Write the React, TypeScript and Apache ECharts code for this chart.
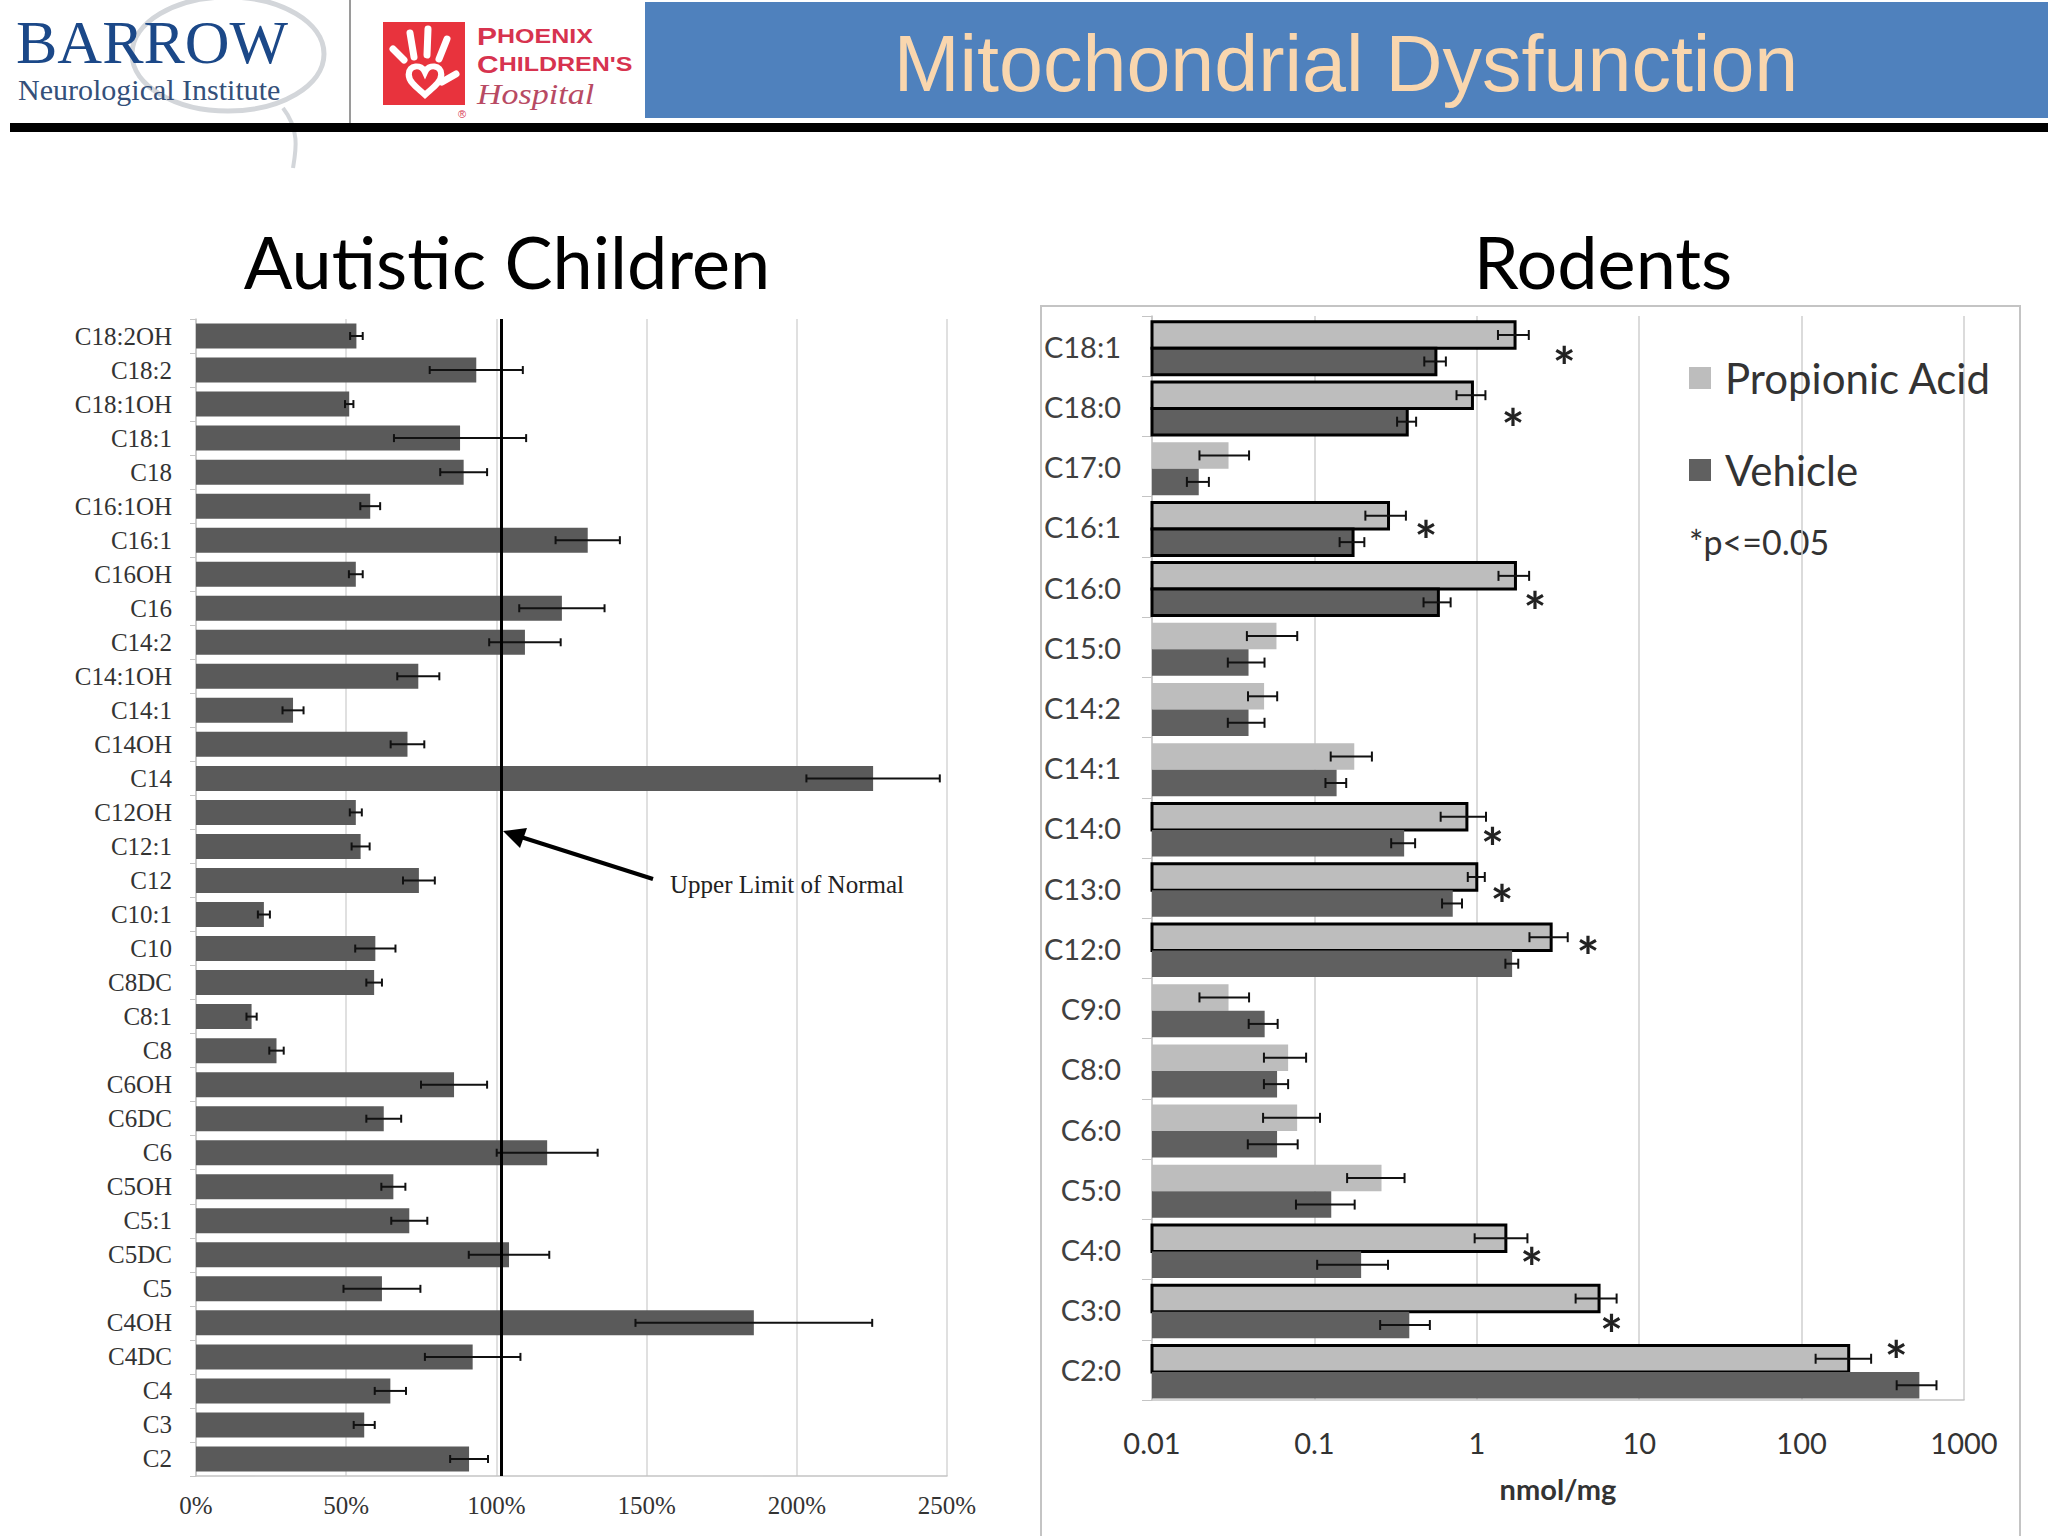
import React, { useEffect, useRef } from 'react';
import * as echarts from 'echarts';

// ---------- Left chart: Autistic Children (% of upper limit of normal) ----------
const leftCategories = ['C18:2OH','C18:2','C18:1OH','C18:1','C18','C16:1OH','C16:1','C16OH','C16','C14:2','C14:1OH','C14:1','C14OH','C14','C12OH','C12:1','C12','C10:1','C10','C8DC','C8:1','C8','C6OH','C6DC','C6','C5OH','C5:1','C5DC','C5','C4OH','C4DC','C4','C3','C2'];
const leftValues = [53.4, 93.3, 51, 87.9, 89.1, 58, 130.4, 53.2, 121.8, 109.5, 74, 32.3, 70.4, 225.4, 53.2, 54.8, 74.2, 22.6, 59.7, 59.3, 18.5, 26.8, 85.9, 62.5, 116.9, 65.7, 71, 104.2, 61.9, 185.7, 92.1, 64.7, 56, 90.9];
const leftErrors = [2.1, 15.5, 1.4, 22, 7.8, 3.3, 10.7, 2.3, 14.2, 11.9, 7, 3.5, 5.6, 22.2, 2, 3, 5.3, 2, 6.7, 2.6, 1.7, 2.4, 11, 5.8, 16.8, 4, 6, 13.4, 12.8, 39.4, 15.9, 5.2, 3.5, 6.3];
const leftAxisMin = 0;
const leftAxisMax = 250;
const leftAxisInterval = 50;
const upperLimitOfNormal = 101.5;

// ---------- Right chart: Rodents (nmol/mg, log scale) ----------
const rightCategories = ['C18:1','C18:0','C17:0','C16:1','C16:0','C15:0','C14:2','C14:1','C14:0','C13:0','C12:0','C9:0','C8:0','C6:0','C5:0','C4:0','C3:0','C2:0'];
const propionicValues = [1.72, 0.94, 0.0296, 0.286, 1.73, 0.0584, 0.049, 0.176, 0.869, 1.0, 2.87, 0.0296, 0.0689, 0.0783, 0.259, 1.51, 5.66, 195];
const propionicErrors = [0.37, 0.19, 0.01, 0.08, 0.37, 0.02, 0.01, 0.05, 0.27, 0.12, 0.76, 0.01, 0.02, 0.03, 0.1, 0.54, 1.6, 73];
const vehicleValues = [0.56, 0.373, 0.0194, 0.173, 0.58, 0.0393, 0.0393, 0.137, 0.357, 0.711, 1.65, 0.0494, 0.0589, 0.0589, 0.127, 0.194, 0.384, 531];
const vehicleErrors = [0.085, 0.05, 0.003, 0.03, 0.11, 0.01, 0.01, 0.02, 0.06, 0.1, 0.15, 0.01, 0.01, 0.02, 0.05, 0.09, 0.13, 146];
const propionicOutlined = [1, 1, 0, 1, 1, 0, 0, 0, 1, 1, 1, 0, 0, 0, 0, 1, 1, 1];
const vehicleOutlined = [1, 1, 0, 1, 1, 0, 0, 0, 0, 0, 0, 0, 0, 0, 0, 0, 0, 0];
const rightAxisMin = 0.01;
const rightAxisMax = 1000;
// significance markers (*p<=0.05): category, x value, offset within category band
const sigCategories = ['C18:1','C18:0','C16:1','C16:0','C14:0','C13:0','C12:0','C4:0','C3:0','C2:0'];
const sigX = [3.45, 1.67, 0.487, 2.28, 1.25, 1.43, 4.84, 2.18, 6.76, 382];
const sigBandOffset = [0.15, 0.19, 0.04, 0.22, 0.14, 0.09, -0.04, 0.12, 0.23, -0.34];

const SERIF = '"Liberation Serif", "DejaVu Serif", serif';
const SANS = 'Lato, "Open Sans", "Noto Sans", sans-serif';
const ARIAL = '"Liberation Sans", Arial, sans-serif';

const PA_COLOR = '#bdbdbd';
const VEH_COLOR = '#606060';
const LEFT_BAR = '#5a5a5a';

let shapesRegistered = false;
function registerShapes() {
  if (shapesRegistered) return;
  shapesRegistered = true;
  echarts.graphic.registerShape(
    'heart',
    echarts.graphic.extendPath('M0,-5 C-3,-12 -13,-11 -13,-3 C-13,4 -5,9 0,14 C5,9 13,4 13,-3 C13,-11 3,-12 0,-5 Z', {})
  );
}

function makeRightSeries(name: string, values: number[], errors: number[], outlined: number[], slot: number, color: string) {
  return {
    type: 'custom',
    name,
    xAxisIndex: 1,
    yAxisIndex: 1,
    silent: true,
    itemStyle: { color },
    data: values.map((v, i) => [v, rightCategories[i], errors[i], outlined[i]]),
    encode: { x: 0, y: 1 },
    renderItem: (params: any, api: any) => {
      const v = api.value(0);
      const cat = api.value(1);
      const e = api.value(2);
      const o = api.value(3);
      const band = api.size([0, 1])[1];
      const h = band * 0.44;
      const c = api.coord([v, cat]);
      const base = api.coord([rightAxisMin, cat]);
      const split = c[1] + band * 0.035;
      const y0 = slot === 0 ? split - h : split;
      const yc = y0 + h / 2;
      const lo = api.coord([v - e, cat])[0];
      const hi = api.coord([v + e, cat])[0];
      const cap = 5;
      const es = { stroke: '#111', lineWidth: 2 };
      return {
        type: 'group',
        children: [
          {
            type: 'rect',
            shape: { x: base[0], y: y0, width: c[0] - base[0], height: h },
            style: o ? { fill: color, stroke: '#000', lineWidth: 3 } : { fill: color },
          },
          { type: 'line', shape: { x1: lo, y1: yc, x2: hi, y2: yc }, style: es },
          { type: 'line', shape: { x1: lo, y1: yc - cap, x2: lo, y2: yc + cap }, style: es },
          { type: 'line', shape: { x1: hi, y1: yc - cap, x2: hi, y2: yc + cap }, style: es },
        ],
      };
    },
  };
}

function buildOption() {
  return {
    animation: false,
    backgroundColor: '#ffffff',
    grid: [
      { left: 196, right: 1101, top: 319, bottom: 60 },
      { left: 1152, right: 84, top: 316, bottom: 136 },
    ],
    xAxis: [
      {
        type: 'value',
        gridIndex: 0,
        min: leftAxisMin,
        max: leftAxisMax,
        interval: leftAxisInterval,
        axisLine: { show: true, lineStyle: { color: '#c4c4c4', width: 1.5 } },
        axisTick: { show: false },
        splitLine: { show: true, lineStyle: { color: '#d6d6d6', width: 1.5 } },
        axisLabel: { formatter: '{value}%', fontFamily: SERIF, fontSize: 25, color: '#333', margin: 17 },
      },
      {
        type: 'log',
        gridIndex: 1,
        logBase: 10,
        min: rightAxisMin,
        max: rightAxisMax,
        axisLine: { show: true, lineStyle: { color: '#c4c4c4', width: 1.5 } },
        axisTick: { show: false },
        minorTick: { show: false },
        splitLine: { show: true, lineStyle: { color: '#cfcfcf', width: 1.5 } },
        axisLabel: { fontFamily: SANS, fontSize: 29, color: '#333', margin: 28, formatter: (v: number) => String(v) },
        name: 'nmol/mg',
        nameLocation: 'middle',
        nameGap: 74,
        nameTextStyle: { fontFamily: SANS, fontSize: 29, fontWeight: 'bold', color: '#333' },
      },
    ],
    yAxis: [
      {
        type: 'category',
        gridIndex: 0,
        inverse: true,
        data: leftCategories,
        axisLine: { show: true, lineStyle: { color: '#c4c4c4', width: 1.5 } },
        axisTick: { show: true, length: 6, lineStyle: { color: '#c4c4c4' } },
        axisLabel: { fontFamily: SERIF, fontSize: 25, color: '#333', margin: 24 },
      },
      {
        type: 'category',
        gridIndex: 1,
        inverse: true,
        data: rightCategories,
        axisLine: { show: true, lineStyle: { color: '#c4c4c4', width: 1.5 } },
        axisTick: { show: true, length: 10, lineStyle: { color: '#c4c4c4' } },
        axisLabel: { fontFamily: SANS, fontSize: 29, color: '#404040', margin: 31 },
      },
    ],
    legend: {
      orient: 'vertical',
      left: 1684,
      top: 351,
      icon: 'rect',
      itemWidth: 22,
      itemHeight: 22,
      itemGap: 48,
      selectedMode: false,
      textStyle: { fontFamily: SANS, fontSize: 42, color: '#333', lineHeight: 44, padding: [0, 0, 0, 9] },
      data: [
        { name: 'Propionic Acid', itemStyle: { color: PA_COLOR } },
        { name: 'Vehicle', itemStyle: { color: VEH_COLOR } },
      ],
    },
    series: [
      {
        type: 'bar',
        xAxisIndex: 0,
        yAxisIndex: 0,
        data: leftValues,
        barWidth: 25,
        itemStyle: { color: LEFT_BAR },
        silent: true,
        markLine: {
          silent: true,
          symbol: ['none', 'none'],
          label: { show: false },
          lineStyle: { color: '#000', width: 3, type: 'solid' },
          data: [{ xAxis: upperLimitOfNormal }],
        },
      },
      {
        type: 'custom',
        xAxisIndex: 0,
        yAxisIndex: 0,
        silent: true,
        z: 3,
        data: leftValues.map((v, i) => [v, leftCategories[i], leftErrors[i]]),
        encode: { x: 0, y: 1 },
        renderItem: (params: any, api: any) => {
          const v = api.value(0);
          const cat = api.value(1);
          const e = api.value(2);
          const p1 = api.coord([v - e, cat]);
          const p2 = api.coord([v + e, cat]);
          const cap = 4;
          const s = { stroke: '#111', lineWidth: 2 };
          return {
            type: 'group',
            children: [
              { type: 'line', shape: { x1: p1[0], y1: p1[1], x2: p2[0], y2: p2[1] }, style: s },
              { type: 'line', shape: { x1: p1[0], y1: p1[1] - cap, x2: p1[0], y2: p1[1] + cap }, style: s },
              { type: 'line', shape: { x1: p2[0], y1: p2[1] - cap, x2: p2[0], y2: p2[1] + cap }, style: s },
            ],
          };
        },
      },
      makeRightSeries('Propionic Acid', propionicValues, propionicErrors, propionicOutlined, 0, PA_COLOR),
      makeRightSeries('Vehicle', vehicleValues, vehicleErrors, vehicleOutlined, 1, VEH_COLOR),
      {
        type: 'custom',
        xAxisIndex: 1,
        yAxisIndex: 1,
        silent: true,
        z: 4,
        data: sigX.map((x, i) => [x, sigCategories[i], sigBandOffset[i]]),
        encode: { x: 0, y: 1 },
        renderItem: (params: any, api: any) => {
          const c = api.coord([api.value(0), api.value(1)]);
          const band = api.size([0, 1])[1];
          const y = c[1] + api.value(2) * band;
          return {
            type: 'text',
            x: c[0],
            y: y + 11,
            scaleX: 1.15,
            scaleY: 1.15,
            style: {
              text: '*',
              font: 'bold 47px ' + SANS,
              lineHeight: 24,
              fill: '#222',
              textAlign: 'center',
              textVerticalAlign: 'middle',
            },
          };
        },
      },
    ],
    graphic: [
      // header
      { type: 'rect', shape: { x: 645, y: 2, width: 1403, height: 116 }, style: { fill: '#4f81bd' }, z: 1 },
      {
        type: 'text', x: 1346, y: 63, z: 2,
        style: { text: 'Mitochondrial Dysfunction', font: '79px ' + ARIAL, fill: '#f9d6ae', textAlign: 'center', textVerticalAlign: 'middle' },
      },
      { type: 'rect', shape: { x: 10, y: 123, width: 2038, height: 9 }, style: { fill: '#000' }, z: 3 },
      { type: 'line', shape: { x1: 350, y1: 0, x2: 350, y2: 128 }, style: { stroke: '#9a9a9a', lineWidth: 2 }, z: 2 },
      // Barrow logo
      { type: 'ellipse', shape: { cx: 228, cy: 54, rx: 96, ry: 57 }, style: { fill: 'none', stroke: '#d3d6da', lineWidth: 5 }, z: 1 },
      { type: 'bezierCurve', shape: { x1: 283, y1: 108, cpx1: 300, cpy1: 130, cpx2: 296, cpy2: 150, x2: 293, y2: 168 }, style: { stroke: '#d3d6da', lineWidth: 4, fill: 'none' }, z: 1 },
      {
        type: 'text', x: 16, y: 73, z: 2,
        style: { text: 'BARROW', font: '62px ' + SERIF, fill: '#1b4888', textVerticalAlign: 'bottom' },
      },
      {
        type: 'text', x: 18, y: 89, z: 2,
        style: { text: 'Neurological Institute', font: '30px ' + SERIF, fill: '#34507a', textVerticalAlign: 'middle', lineHeight: 26 },
      },
      // Phoenix Children's logo
      { type: 'rect', shape: { x: 383, y: 22, width: 82, height: 83 }, style: { fill: '#e8333d' }, z: 2 },
      { type: 'line', shape: { x1: 393, y1: 49, x2: 404, y2: 60 }, style: { stroke: '#fff', lineWidth: 7, lineCap: 'round' }, z: 3 },
      { type: 'line', shape: { x1: 410, y1: 33, x2: 414, y2: 57 }, style: { stroke: '#fff', lineWidth: 7, lineCap: 'round' }, z: 3 },
      { type: 'line', shape: { x1: 428, y1: 29, x2: 427, y2: 55 }, style: { stroke: '#fff', lineWidth: 7, lineCap: 'round' }, z: 3 },
      { type: 'line', shape: { x1: 447, y1: 39, x2: 439, y2: 59 }, style: { stroke: '#fff', lineWidth: 7, lineCap: 'round' }, z: 3 },
      { type: 'line', shape: { x1: 456, y1: 74, x2: 442, y2: 82 }, style: { stroke: '#fff', lineWidth: 7, lineCap: 'round' }, z: 3 },
      { type: 'heart', x: 425, y: 78, scaleX: 1.25, scaleY: 1.2, style: { fill: '#e8333d', stroke: '#fff', lineWidth: 5 }, z: 3 },
      {
        type: 'text', x: 462, y: 114, z: 3,
        style: { text: '®', font: '11px ' + ARIAL, fill: '#d7334f', textAlign: 'center', textVerticalAlign: 'middle' },
      },
      {
        type: 'text', x: 477, y: 36, z: 3, scaleY: 0.82,
        style: {
          text: '{a|P}{b|HOENIX}',
          textVerticalAlign: 'middle',
          rich: {
            a: { font: 'bold 30px ' + ARIAL, fill: '#d7334f', lineHeight: 24 },
            b: { font: 'bold 25px ' + ARIAL, fill: '#d7334f', lineHeight: 24 },
          },
        },
      },
      {
        type: 'text', x: 477, y: 64, z: 3, scaleY: 0.82,
        style: {
          text: "{a|C}{b|HILDREN'S}",
          textVerticalAlign: 'middle',
          rich: {
            a: { font: 'bold 30px ' + ARIAL, fill: '#d7334f', lineHeight: 24 },
            b: { font: 'bold 25px ' + ARIAL, fill: '#d7334f', lineHeight: 24 },
          },
        },
      },
      {
        type: 'text', x: 477, y: 94, z: 3, scaleY: 0.85,
        style: { text: 'Hospital', font: 'italic 34px ' + SERIF, fill: '#b84a63', textVerticalAlign: 'middle', lineHeight: 26 },
      },
      // panel titles
      {
        type: 'text', x: 507, y: 261,
        style: { text: 'Autistic Children', font: '72px ' + SANS, fill: '#000', textAlign: 'center', textVerticalAlign: 'middle' },
      },
      {
        type: 'text', x: 1603, y: 261,
        style: { text: 'Rodents', font: '72px ' + SANS, fill: '#000', textAlign: 'center', textVerticalAlign: 'middle' },
      },
      // right panel frame
      { type: 'rect', shape: { x: 1041, y: 306, width: 979, height: 1234 }, style: { fill: 'none', stroke: '#c4c4c4', lineWidth: 2 }, z: -1 },
      {
        type: 'text', x: 1689, y: 541,
        style: { text: '*p<=0.05', font: '34px ' + SANS, fill: '#333', textVerticalAlign: 'middle' },
      },
      // upper limit annotation
      { type: 'line', shape: { x1: 653, y1: 879, x2: 521, y2: 837 }, style: { stroke: '#000', lineWidth: 4 }, z: 5 },
      { type: 'polygon', shape: { points: [[503, 831], [527, 828], [520, 848]] }, style: { fill: '#000' }, z: 5 },
      {
        type: 'text', x: 670, y: 884, z: 5,
        style: { text: 'Upper Limit of Normal', font: '25px ' + SERIF, fill: '#222', textVerticalAlign: 'middle' },
      },
    ],
  };
}

export default function App() {
  const ref = useRef<HTMLDivElement>(null);
  useEffect(() => {
    document.body.style.margin = '0';
    registerShapes();
    const chart = echarts.init(ref.current as HTMLDivElement, null, { renderer: 'svg' });
    chart.setOption(buildOption() as any);
    return () => {
      chart.dispose();
    };
  }, []);
  return <div ref={ref} style={{ width: 2048, height: 1536, background: '#fff' }} />;
}
